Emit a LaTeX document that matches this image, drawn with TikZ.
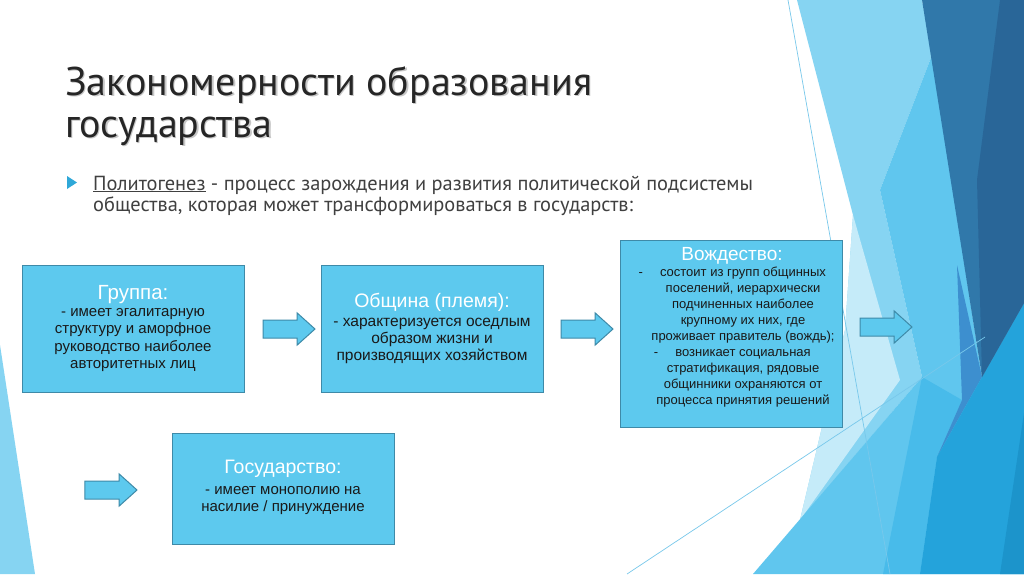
\documentclass[tikz,border=0pt]{standalone}
\usepackage{fontspec}
\setmainfont{Liberation Sans}
\newfontfamily\ptsans{PT Sans}
\usetikzlibrary{shapes.arrows}
\definecolor{boxfill}{RGB}{93,201,238}
\definecolor{boxline}{RGB}{62,138,168}
\definecolor{bodytext}{RGB}{25,25,25}
\definecolor{titletext}{RGB}{38,38,38}
\definecolor{subtext}{RGB}{64,64,64}
\definecolor{bulletc}{RGB}{47,168,216}
\definecolor{bgLight}{RGB}{134,212,242}
\definecolor{bgPale}{RGB}{197,235,249}
\definecolor{bgMid}{RGB}{96,198,238}
\definecolor{bgCyan}{RGB}{72,187,234}
\definecolor{bgBright}{RGB}{36,163,219}
\definecolor{bgDeep}{RGB}{28,148,203}
\definecolor{bgDark}{RGB}{48,120,170}
\definecolor{bgDarker}{RGB}{41,102,152}
\definecolor{bgMed}{RGB}{61,143,207}
\definecolor{thinline}{RGB}{120,200,235}
\tikzset{
  stagebox/.style={draw=boxline, fill=boxfill, line width=1pt, inner sep=0pt},
  boxtitle/.style={text=white, font=\fontsize{19.5}{22}\selectfont, inner sep=0pt},
  boxbody/.style={text=bodytext, align=center, inner sep=0pt},
  blockarrow/.style={single arrow, draw=boxline, fill=boxfill, line width=1pt,
    minimum height=52pt, inner xsep=0pt, inner ysep=8.5pt,
    single arrow head extend=7pt, single arrow tip angle=84},
}
\newcommand{\itemdash}{\llap{-\hspace{17pt}}}
\begin{document}
\begin{tikzpicture}[x=1pt,y=-1pt]
\useasboundingbox (0,0) rectangle (1024,574);
\fill[white] (0,0) rectangle (1024,574);
% background facets
\fill[bgLight] (797,0) -- (922,0) -- (932,55) -- (880,190) -- (922,377) -- (800,520) -- (845,330) -- (853,215) -- cycle;
\fill[bgPale] (853,215) -- (900,380) -- (800,520) -- (845,330) -- cycle;
\fill[bgMid] (932,55) -- (880,190) -- (922,377) -- (753,574) -- (1024,574) -- (1024,303) -- (982,377) -- cycle;
\fill[bgCyan] (922,377) -- (962,400) -- (937,457) -- (920,574) -- (883,574) -- cycle;
\fill[bgMed] (957,265) -- (982,377) -- (937,457) -- (962,400) -- cycle;
\fill[bgBright] (982,377) -- (1024,303) -- (1024,574) -- (920,574) -- (937,457) -- cycle;
\fill[bgDeep] (1000,574) -- (1024,413) -- (1024,574) -- cycle;
\fill[bgDark] (922,0) -- (1024,0) -- (1024,303) -- (982,377) -- cycle;
\fill[bgDarker] (1000,0) -- (1024,0) -- (1024,303) -- (982,377) -- (977,180) -- cycle;
\fill[bgLight] (0,345) -- (35,574) -- (0,574) -- cycle;
\coordinate (la1) at (788,0);
\coordinate (la2) at (890,574);
\coordinate (lb1) at (627,574);
\coordinate (lb2) at (985,337);
\draw[thinline, line width=0.7pt] (la1) -- (la2);
\draw[thinline, line width=0.7pt] (lb1) -- (lb2);
% title
\node[anchor=base west, inner sep=0pt, text=black!22, font=\ptsans\fontsize{40}{44}\selectfont] (tshadow1) at (66.5,96.5) {Закономерности образования};
\node[anchor=base west, inner sep=0pt, text=black!22, font=\ptsans\fontsize{40}{44}\selectfont] (tshadow2) at (66.5,138.5) {государства};
\node[anchor=base west, inner sep=0pt, text=titletext, font=\ptsans\fontsize{40}{44}\selectfont] (title1) at (65,95) {Закономерности образования};
\node[anchor=base west, inner sep=0pt, text=titletext, font=\ptsans\fontsize{40}{44}\selectfont] (title2) at (65,137) {государства};
% subtitle
\fill[bulletc] (67,176) -- (77,182.5) -- (67,189) -- cycle;
\node[anchor=base west, inner sep=0pt, text=subtext, font=\ptsans\fontsize{20.4}{22}\selectfont] (sub1) at (93,190) {\underline{Политогенез} - процесс зарождения и развития политической подсистемы};
\node[anchor=base west, inner sep=0pt, text=subtext, font=\ptsans\fontsize{20.4}{22}\selectfont] (sub2) at (93,211) {общества, которая может трансформироваться в государств:};
% boxes
\node[stagebox, minimum width=222pt, minimum height=127pt] (grp) at (133,328.5) {};
\node[stagebox, minimum width=222pt, minimum height=127pt] (obs) at (432,328.5) {};
\node[stagebox, minimum width=222pt, minimum height=187pt] (vozh) at (731,333.5) {};
\node[stagebox, minimum width=222pt, minimum height=111pt] (gos) at (283,488.5) {};
% box 1
\node[boxtitle, font=\fontsize{20.5}{23}\selectfont] (grpT) at (133,295) {Группа:};
\node[boxbody, font=\fontsize{15}{17.3}\selectfont] (grpB) at (133,340) {- имеет эгалитарную\\структуру и аморфное\\руководство наиболее\\авторитетных лиц};
% box 2
\node[boxtitle] (obsT) at (432,302) {Община (племя):};
\node[boxbody, font=\fontsize{15.5}{17}\selectfont] (obsB) at (432,341) {- характеризуется оседлым\\образом жизни и\\производящих хозяйством};
% box 3
\node[boxtitle, font=\fontsize{19}{22}\selectfont] (vozhT) at (732,256) {Вождество:};
\node[boxbody, font=\fontsize{13}{16.1}\selectfont] (vozhB) at (743,337) {\itemdash состоит из групп общинных\\поселений, иерархически\\подчиненных наиболее\\крупному их них, где\\проживает правитель (вождь);\\\itemdash возникает социальная\\стратификация, рядовые\\общинники охраняются от\\процесса принятия решений};
% box 4
\node[boxtitle] (gosT) at (283,469) {Государство:};
\node[boxbody, font=\fontsize{15}{17}\selectfont] (gosB) at (283,501) {- имеет монополию на\\насилие / принуждение};
% arrows
\node[blockarrow] (ar1) at (284,329) {};
\node[blockarrow] (ar2) at (582,329) {};
\node[blockarrow] (ar3) at (881,327) {};
\node[blockarrow] (ar4) at (106,490) {};
\end{tikzpicture}
\end{document}
